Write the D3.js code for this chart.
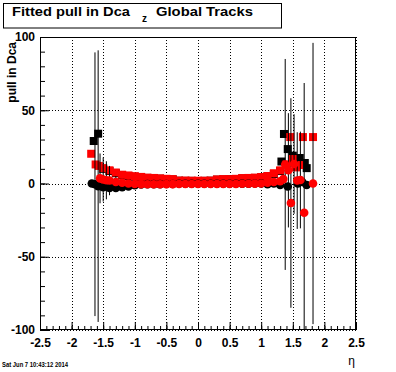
<!DOCTYPE html>
<html>
<head>
<meta charset="utf-8">
<script src="https://cdn.jsdelivr.net/npm/d3@7"></script>
<style>
  body { margin: 0; background: #fff; }
  svg { display: block; }
  text { font-family: "Liberation Sans", Arial, sans-serif; }
</style>
</head>
<body>
<svg id="chart" width="396" height="372"></svg>
<script>
// axis ticks
const xTicks = [-2.5, -2, -1.5, -1, -0.5, 0, 0.5, 1, 1.5, 2, 2.5];
const yTicks = [-100, -50, 0, 50, 100];

// eta bins of the central band
const etaBand = [-1.5,-1.4,-1.3,-1.2,-1.1,-1.0,-0.9,-0.8,-0.7,-0.6,-0.5,-0.4,-0.3,-0.2,-0.1,
                 0.0,0.1,0.2,0.3,0.4,0.5,0.6,0.7,0.8,0.9,1.0,1.1,1.2,1.3];

// squares (upper band)
const blkSqBand = [10,8.5,7,5.5,5,4.6,4.2,3.8,3.6,3.3,3,2.8,1.9,1.8,1.8,1.7,1.8,1.9,2.6,2.8,2.9,3,3.5,3.6,3.8,4.2,5,6.5,8.5];
const redSqBand = [10.5,9,7.5,6,5.5,5,4.5,4,3.8,3.5,3.2,3,2,2,1.9,1.9,1.9,2,2.8,3,3,3.2,3.7,3.8,4,4.4,5.1,7,9];
// circles (lower band)
const blkCiBand = [-2.5,-3,-3,-2.5,-2,-1.2,-0.6,-0.4,-0.4,-0.4,-0.3,-0.3,-0.2,-0.2,-0.2,-0.2,-0.2,-0.2,-0.2,-0.2,-0.2,-0.2,-0.1,-0.1,0,0.1,-0.5,0,-1];
const redCiBand = [2.7,2,1,0.5,0,-0.3,-0.4,-0.5,-0.5,-0.5,-0.4,-0.4,-0.3,-0.3,-0.3,-0.3,-0.3,-0.3,-0.3,-0.3,-0.3,-0.3,-0.2,-0.2,-0.1,0,0.5,1,1.5];
const redCiBandErr = [15,10,4,2,1];

// edge points (large pulls / large errors)
const blkSqEta = [-1.65,-1.58,1.32,1.36,1.42,1.5,1.61,1.69,1.72];
const blkSqVal = [29,34,15,33.8,23.5,19,17.4,14,10.5];

const redSqEta = [-1.69,-1.62,-1.57,1.4,1.46,1.5,1.55,1.6,1.66,1.82];
const redSqVal = [20.3,13,12,13,31.7,16.7,11,12.6,31.7,31.7];

const blkCiEta = [-1.68,-1.63,-1.58,1.42,1.58,1.65,1.72];
const blkCiVal = [0,-0.5,-1.8,-2,0,1,-1];
const blkCiErr = [0,90,92.7,0,0,0,0];

const redCiEta = [-1.55,-1.45,1.35,1.38,1.43,1.47,1.52,1.57,1.62,1.68,1.82];
const redCiVal = [3.5,2.2,3,13,9,-13.3,13.3,2,2.4,-20,0];
const redCiErr = [17,13,0,72,39,71.5,34,33,33,88.6,96];

function pts(eta, val, err) {
  return eta.map((e, i) => ({ eta: e, v: val[i], err: (err && err[i]) || 0 }));
}

const series = [
  { shape: 'sq', color: '#000', data: pts(etaBand, blkSqBand).concat(pts(blkSqEta, blkSqVal)) },
  { shape: 'sq', color: '#f00', data: pts(etaBand, redSqBand).concat(pts(redSqEta, redSqVal)) },
  { shape: 'ci', color: '#000', data: pts(etaBand, blkCiBand).concat(pts(blkCiEta, blkCiVal, blkCiErr)) },
  { shape: 'ci', color: '#f00', data: pts(etaBand, redCiBand, redCiBandErr).concat(pts(redCiEta, redCiVal, redCiErr)) }
];

const svg = d3.select('#chart');
const fL = 40, fR = 356, fT = 37, fB = 330;

const x = d3.scaleLinear().domain([-2.5, 2.5]).range([fL, fR]);
const y = d3.scaleLinear().domain([-100, 100]).range([fB, fT]);

svg.append('rect').attr('width', 396).attr('height', 372).attr('fill', '#fff');

svg.append('clipPath').attr('id', 'frame')
  .append('rect').attr('x', fL).attr('y', fT).attr('width', fR - fL).attr('height', fB - fT);

// grid
const grid = svg.append('g').attr('stroke', '#000').attr('stroke-width', 1).attr('stroke-dasharray', '1,2');
grid.selectAll('.gx').data(xTicks).join('line')
  .attr('x1', d => Math.round(x(d)) + 0.5).attr('x2', d => Math.round(x(d)) + 0.5)
  .attr('y1', fT).attr('y2', fB);
grid.selectAll('.gy').data(yTicks).join('line')
  .attr('y1', d => Math.round(y(d)) + 0.5).attr('y2', d => Math.round(y(d)) + 0.5)
  .attr('x1', fL).attr('x2', fR);

// axes (ticks pointing inside the frame)
const xMinor = d3.range(-25, 26).map(d => d / 10);
const yMinor = d3.range(-10, 11).map(d => d * 10);

svg.append('g').attr('transform', `translate(0,${fB})`)
  .call(d3.axisBottom(x).tickValues(xMinor).tickSizeInner(-4).tickSizeOuter(0).tickFormat(''))
  .call(g => g.select('.domain').remove());
svg.append('g').attr('transform', `translate(0,${fB})`)
  .call(d3.axisBottom(x).tickValues(xTicks).tickSizeInner(-8).tickSizeOuter(0)
    .tickPadding(8).tickFormat(d => String(d)))
  .call(g => g.select('.domain').remove())
  .call(g => g.selectAll('text').attr('font-size', 12).attr('font-weight', 'bold')
    .attr('font-family', '"Liberation Sans", Arial, sans-serif').attr('fill', '#000'));

svg.append('g').attr('transform', `translate(${fL},0)`)
  .call(d3.axisLeft(y).tickValues(yMinor).tickSizeInner(-5).tickSizeOuter(0).tickFormat(''))
  .call(g => g.select('.domain').remove());
svg.append('g').attr('transform', `translate(${fL},0)`)
  .call(d3.axisLeft(y).tickValues(yTicks).tickSizeInner(-9).tickSizeOuter(0)
    .tickPadding(5).tickFormat(d => String(d)))
  .call(g => g.select('.domain').remove())
  .call(g => g.selectAll('text').attr('font-size', 12).attr('font-weight', 'bold')
    .attr('font-family', '"Liberation Sans", Arial, sans-serif').attr('fill', '#000'));

// graphs
const plot = svg.append('g').attr('clip-path', 'url(#frame)');
series.forEach(s => {
  const g = plot.append('g');
  g.selectAll('line').data(s.data.filter(d => d.err > 0)).join('line')
    .attr('x1', d => x(d.eta)).attr('x2', d => x(d.eta))
    .attr('y1', d => y(d.v - d.err)).attr('y2', d => y(d.v + d.err))
    .attr('stroke', '#000').attr('stroke-width', 1);
  if (s.shape === 'sq') {
    g.selectAll('rect').data(s.data).join('rect')
      .attr('x', d => x(d.eta) - 4).attr('y', d => y(d.v) - 4)
      .attr('width', 8).attr('height', 8).attr('fill', s.color);
  } else {
    g.selectAll('circle').data(s.data).join('circle')
      .attr('cx', d => x(d.eta)).attr('cy', d => y(d.v)).attr('r', 4.3).attr('fill', s.color);
  }
});

// frame
svg.append('rect').attr('x', fL + 0.5).attr('y', fT + 0.5)
  .attr('width', fR - fL - 1).attr('height', fB - fT - 1)
  .attr('fill', 'none').attr('stroke', '#000').attr('stroke-width', 1);

// title box
svg.append('rect').attr('x', 3.5).attr('y', 3.5).attr('width', 278).attr('height', 24.5)
  .attr('fill', '#fff').attr('stroke', '#000');
svg.append('text').attr('x', 12).attr('y', 15.5).attr('font-size', 13.5).attr('font-weight', 'bold')
  .attr('textLength', 118).attr('lengthAdjust', 'spacingAndGlyphs').text('Fitted pull in Dca');
svg.append('text').attr('x', 142).attr('y', 22).attr('font-size', 10).attr('font-weight', 'bold').text('z');
svg.append('text').attr('x', 156).attr('y', 15.5).attr('font-size', 13.5).attr('font-weight', 'bold')
  .attr('textLength', 97).attr('lengthAdjust', 'spacingAndGlyphs').text('Global Tracks');

// axis titles
svg.append('text').attr('transform', 'translate(16,42) rotate(-90)').attr('text-anchor', 'end')
  .attr('font-size', 12).attr('font-weight', 'bold').text('pull in Dca');
svg.append('text').attr('x', 355).attr('y', 365).attr('text-anchor', 'end')
  .attr('font-size', 12).text('η');

// date stamp
svg.append('text').attr('x', 2).attr('y', 367).attr('font-size', 8).attr('font-weight', 'bold')
  .attr('textLength', 66).attr('lengthAdjust', 'spacingAndGlyphs').text('Sat Jun  7 10:43:12 2014');
</script>
</body>
</html>
